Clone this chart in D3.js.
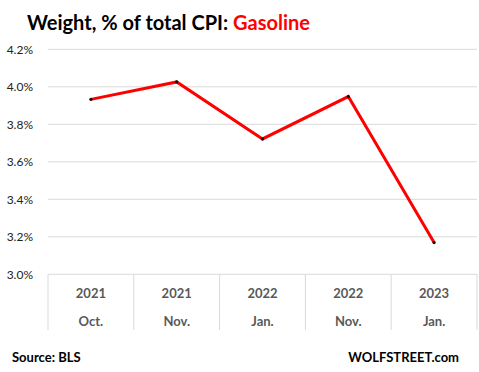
<!DOCTYPE html>
<html><head><meta charset="utf-8">
<script src="https://cdn.jsdelivr.net/npm/d3@7"></script>
<style>body{margin:0;background:#fff}svg{display:block}</style>
</head><body>
<script>
const years = ["2021","2021","2022","2022","2023"];
const months = ["Oct.","Nov.","Jan.","Nov.","Jan."];
const values = [3.933, 4.026, 3.722, 3.948, 3.169];
const yTicks = [3.0, 3.2, 3.4, 3.6, 3.8, 4.0, 4.2];

const W = 479, H = 372;
const svg = d3.select("body").append("svg").attr("width", W).attr("height", H);
const plotL = 48, plotR = 477, plotT = 49.3, plotB = 274.3;
const font = "Lato, 'Open Sans', sans-serif";

const x = d3.scaleBand().domain(d3.range(values.length)).range([plotL, plotR]).padding(0);
const y = d3.scaleLinear().domain([3.0, 4.2]).range([plotB, plotT]);

// gridlines
svg.append("g").selectAll("line").data(yTicks).join("line")
  .attr("x1", plotL).attr("x2", plotR)
  .attr("y1", d => y(d)).attr("y2", d => y(d))
  .attr("stroke", "#d9d9d9").attr("stroke-width", 1);

// y labels
svg.append("g").selectAll("text").data(yTicks).join("text")
  .attr("x", 33).attr("y", d => y(d) + 4.5)
  .attr("text-anchor", "end").attr("font-family", font).attr("font-size", 12)
  .attr("fill", "#222").text(d => d.toFixed(1) + "%");

// category separators
const seps = d3.range(values.length + 1);
svg.append("g").selectAll("line").data(seps).join("line")
  .attr("x1", i => plotL + i * x.bandwidth()).attr("x2", i => plotL + i * x.bandwidth())
  .attr("y1", plotB).attr("y2", 330)
  .attr("stroke", "#d9d9d9").attr("stroke-width", 1);

// category labels
const cx = i => x(i) + x.bandwidth() / 2;
svg.append("g").selectAll("text").data(years).join("text")
  .attr("x", (d, i) => cx(i)).attr("y", 298).attr("text-anchor", "middle")
  .attr("font-family", font).attr("font-weight", "bold").attr("font-size", 13)
  .attr("fill", "#595959").text(d => d);
svg.append("g").selectAll("text").data(months).join("text")
  .attr("x", (d, i) => cx(i)).attr("y", 326).attr("text-anchor", "middle")
  .attr("font-family", font).attr("font-weight", "bold").attr("font-size", 13)
  .attr("fill", "#595959").text(d => d);

// line
const line = d3.line().x((d, i) => cx(i)).y(d => y(d));
svg.append("path").datum(values).attr("d", line)
  .attr("fill", "none").attr("stroke", "#ff0000").attr("stroke-width", 3)
  .attr("stroke-linejoin", "miter");
svg.append("g").selectAll("circle").data(values).join("circle")
  .attr("cx", (d, i) => cx(i)).attr("cy", d => y(d)).attr("r", 1.6).attr("fill", "#111");

// title
const t = svg.append("text").attr("x", 27).attr("y", 30)
  .attr("font-family", font).attr("font-weight", "bold").attr("font-size", 20);
t.append("tspan").attr("fill", "#000").text("Weight, % of total CPI: ");
t.append("tspan").attr("fill", "#ff0000").text("Gasoline");

// footer
svg.append("text").attr("x", 12).attr("y", 362).attr("font-family", font)
  .attr("font-weight", "bold").attr("font-size", 13).attr("fill", "#000").text("Source: BLS");
svg.append("text").attr("x", 459).attr("y", 362).attr("text-anchor", "end").attr("font-family", font)
  .attr("font-weight", "bold").attr("font-size", 13).attr("fill", "#000").text("WOLFSTREET.com");
</script>
</body></html>
